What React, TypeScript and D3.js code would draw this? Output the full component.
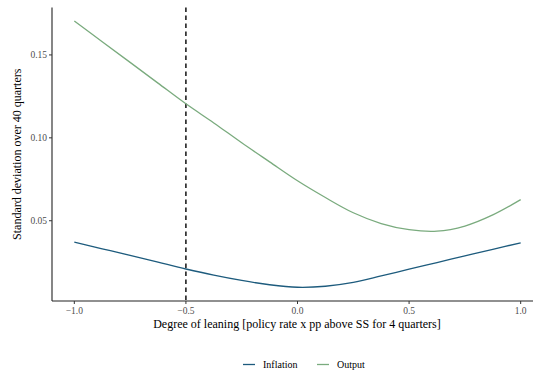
import React from "react";
import * as d3 from "d3";

const leaning = [-1, -0.875, -0.75, -0.625, -0.5, -0.375, -0.25, -0.125, 0, 0.125, 0.25, 0.375, 0.5, 0.625, 0.75, 0.875, 1];
const inflation = [0.0371, 0.0331, 0.0291, 0.0250, 0.0209, 0.0172, 0.0140, 0.0114, 0.0099, 0.0105, 0.0128, 0.0167, 0.0208, 0.0248, 0.0288, 0.0328, 0.0367];
const output = [0.1705, 0.1580, 0.1455, 0.1330, 0.1205, 0.1090, 0.0970, 0.0855, 0.0741, 0.0640, 0.0548, 0.0483, 0.0446, 0.0437, 0.0468, 0.0535, 0.0627];
const xTicks = [-1, -0.5, 0, 0.5, 1];
const yTicks = [0.05, 0.1, 0.15];
const vLine = -0.5;
const seriesNames = ["Inflation", "Output"];
const seriesColors = ["#1d5b7d", "#7aab7e"];

const W = 533, H = 371;
const left = 52, right = 533, top = 7.5, bottom = 301;

export default function App() {
  const x = d3.scaleLinear().domain([-1.1, 1.1]).range([left, left + 491]);
  const y = d3.scaleLinear().domain([0.0016, 0.1786]).range([bottom, top]);
  const line = d3.line<[number, number]>().x(d => x(d[0])).y(d => y(d[1])).curve(d3.curveCatmullRom.alpha(0.5));
  const series = [inflation, output];
  const font = "'Liberation Serif', 'Times New Roman', serif";
  return (
    <svg width={W} height={H} style={{ position: "absolute", left: 0, top: 0, background: "#fff" }} fontFamily={font}>
      <line x1={x(vLine)} x2={x(vLine)} y1={top} y2={bottom} stroke="#000" strokeWidth={1.4} strokeDasharray="4.5,3.5" />
      {series.map((s, i) => (
        <path key={i} d={line(leaning.map((v, j) => [v, s[j]] as [number, number])) || ""} fill="none" stroke={seriesColors[i]} strokeWidth={1.3} />
      ))}
      <line x1={left} x2={right} y1={bottom} y2={bottom} stroke="#222" strokeWidth={1.1} />
      <line x1={left} x2={left} y1={top} y2={bottom} stroke="#222" strokeWidth={1.1} />
      {xTicks.map(t => (
        <g key={t}>
          <line x1={x(t)} x2={x(t)} y1={bottom} y2={bottom + 3} stroke="#333" />
          <text x={x(t)} y={bottom + 12.5} textAnchor="middle" fontSize={9.5} fill="#4d4d4d">{t < 0 ? "\u2212" + Math.abs(t).toFixed(1) : t.toFixed(1)}</text>
        </g>
      ))}
      {yTicks.map(t => (
        <g key={t}>
          <line x1={left - 3} x2={left} y1={y(t)} y2={y(t)} stroke="#333" />
          <text x={left - 5} y={y(t) + 3.2} textAnchor="end" fontSize={9.5} fill="#4d4d4d">{t.toFixed(2)}</text>
        </g>
      ))}
      <text x={297} y={328} textAnchor="middle" fontSize={12} fill="#000">Degree of leaning [policy rate x pp above SS for 4 quarters]</text>
      <text transform={`translate(21,${(top + bottom) / 2}) rotate(-90)`} textAnchor="middle" fontSize={12} fill="#000">Standard deviation over 40 quarters</text>
      {seriesNames.map((n, i) => {
        const lx = i === 0 ? 243 : 317;
        return (
          <g key={n}>
            <line x1={lx} x2={lx + 12} y1={364.5} y2={364.5} stroke={seriesColors[i]} strokeWidth={1.3} />
            <text x={lx + 20} y={368} fontSize={10} fill="#000">{n}</text>
          </g>
        );
      })}
    </svg>
  );
}
